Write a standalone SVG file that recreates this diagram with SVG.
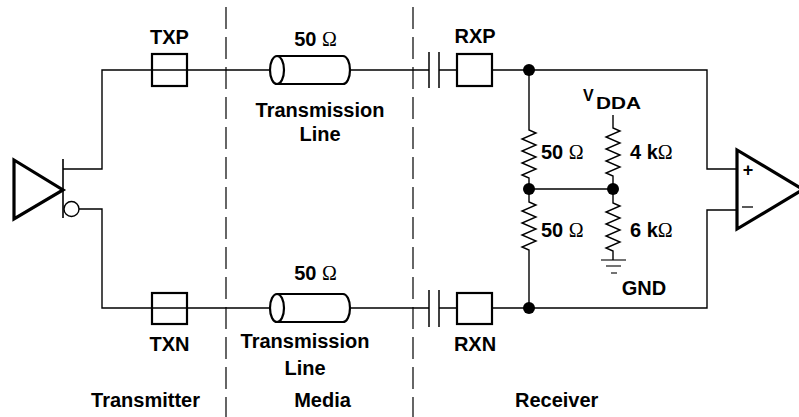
<svg xmlns="http://www.w3.org/2000/svg" width="799" height="417" viewBox="0 0 799 417">
<style>
.w{fill:none;stroke:#000;stroke-width:1.4}
.b{fill:#fff;stroke:#000;stroke-width:2.2}
.t{font-family:"Liberation Sans",Arial,sans-serif;font-weight:bold;font-size:20px;fill:#000}
.o{font-family:"Liberation Serif","Times New Roman",serif;font-weight:normal}
.d{fill:none;stroke:#000;stroke-width:1.2;stroke-dasharray:22 8}
.tri{fill:#fff;stroke:#000;stroke-width:3.2;stroke-linejoin:miter}
.dot{fill:#000}
</style>
<rect width="799" height="417" fill="#fff"/>
<g id="dividers">
<line class="d" x1="226" y1="7" x2="226" y2="417"/>
<line class="d" x1="413" y1="7" x2="413" y2="417"/>
</g>
<g id="connectors">
<path class="w" d="M63,169 H102 V70 H270"/>
<path class="w" d="M79,209 H102 V308 H270"/>
<path class="w" d="M350,70 H429 M439,70 H457 M492,70 H707 V169 H737"/>
<path class="w" d="M350,308 H429 M439,308 H457 M492,308 H707 V210 H737"/>
<path class="w" d="M529,70 V130 l7,3 l-14,6 l14,6 l-14,6 l14,6 l-14,6 l14,6 l-14,6 l7,3 V202 l7,3 l-14,6 l14,6 l-14,6 l14,6 l-14,6 l14,6 l-14,6 l7,3 V308"/>
<path class="w" d="M529,189 H613"/>
<path class="w" d="M613,115 V128 l7,3 l-14,6 l14,6 l-14,6 l14,6 l-14,6 l14,6 l-14,6 l7,3 V203 l7,3 l-14,6 l14,6 l-14,6 l14,6 l-14,6 l14,6 l-14,6 l7,3 V260"/>
</g>
<g id="driver">
<polygon class="tri" points="14,160 14,219 63,190"/>
<line x1="63" y1="159" x2="63" y2="218" stroke="#000" stroke-width="1.6"/>
<circle cx="71.5" cy="209" r="7.5" fill="#fff" stroke="#000" stroke-width="1.4"/>
</g>
<g id="txp">
<rect class="b" x="152" y="54" width="35" height="32"/>
<line class="w" x1="152" y1="70" x2="187" y2="70"/>
<text class="t" x="169.5" y="44" text-anchor="middle">TXP</text>
</g>
<g id="txn">
<rect class="b" x="152" y="293" width="35" height="31"/>
<line class="w" x1="152" y1="308" x2="187" y2="308"/>
<text class="t" x="169.5" y="351" text-anchor="middle">TXN</text>
</g>
<g id="tline-top">
<path class="b" d="M277,56 H343 A7,14 0 0 1 343,84 H277"/>
<ellipse class="b" cx="277" cy="70" rx="7" ry="14"/>
<text class="t" x="315.5" y="46" text-anchor="middle">50 <tspan class="o">Ω</tspan></text>
<text class="t" x="320" y="117" text-anchor="middle">Transmission</text>
<text class="t" x="320" y="141" text-anchor="middle">Line</text>
</g>
<g id="tline-bottom">
<path class="b" d="M277,294 H343 A7,14 0 0 1 343,322 H277"/>
<ellipse class="b" cx="277" cy="308" rx="7" ry="14"/>
<text class="t" x="315.5" y="280" text-anchor="middle">50 <tspan class="o">Ω</tspan></text>
<text class="t" x="305" y="348" text-anchor="middle">Transmission</text>
<text class="t" x="305" y="375" text-anchor="middle">Line</text>
</g>
<g id="cap-top">
<line x1="429" y1="52" x2="429" y2="88" stroke="#000" stroke-width="1.5"/>
<line x1="439" y1="52" x2="439" y2="88" stroke="#000" stroke-width="1.5"/>
</g>
<g id="cap-bottom">
<line x1="429" y1="290" x2="429" y2="327" stroke="#000" stroke-width="1.5"/>
<line x1="439" y1="290" x2="439" y2="327" stroke="#000" stroke-width="1.5"/>
</g>
<g id="rxp">
<rect class="b" x="457" y="54" width="35" height="32"/>
<text class="t" x="475" y="43" text-anchor="middle">RXP</text>
</g>
<g id="rxn">
<rect class="b" x="457" y="293" width="35" height="31"/>
<text class="t" x="475" y="351" text-anchor="middle">RXN</text>
</g>
<g id="junctions">
<circle class="dot" cx="529" cy="70" r="6"/>
<circle class="dot" cx="529" cy="189" r="6"/>
<circle class="dot" cx="613" cy="189" r="6"/>
<circle class="dot" cx="529" cy="308" r="6"/>
</g>
<g id="resistor-labels">
<text class="t" x="541" y="159">50 <tspan class="o">Ω</tspan></text>
<text class="t" x="541" y="237">50 <tspan class="o">Ω</tspan></text>
<text class="t" x="630" y="159">4 k<tspan class="o">Ω</tspan></text>
<text class="t" x="630" y="237">6 k<tspan class="o">Ω</tspan></text>
</g>
<g id="vdda">
<text class="t" x="583" y="101" style="font-size:16px">V</text>
<text class="t" x="596" y="109" style="font-size:16px" textLength="45" lengthAdjust="spacingAndGlyphs">DDA</text>
</g>
<g id="gnd">
<line x1="601" y1="260" x2="626" y2="260" stroke="#000" stroke-width="1.1"/>
<line x1="606" y1="266" x2="621" y2="266" stroke="#000" stroke-width="1.1"/>
<line x1="611" y1="273" x2="617" y2="273" stroke="#000" stroke-width="1.1"/>
<text class="t" x="644" y="295" text-anchor="middle">GND</text>
</g>
<g id="comparator">
<polygon class="tri" points="737,150 737,229 803,189.5"/>
<text class="t" x="748" y="176" text-anchor="middle" style="font-size:18px">+</text>
<line x1="742" y1="207" x2="753" y2="207" stroke="#000" stroke-width="1.3"/>
</g>
<g id="sections">
<text class="t" x="200" y="407" text-anchor="end">Transmitter</text>
<text class="t" x="322.5" y="407" text-anchor="middle">Media</text>
<text class="t" x="515" y="407">Receiver</text>
</g>
</svg>
